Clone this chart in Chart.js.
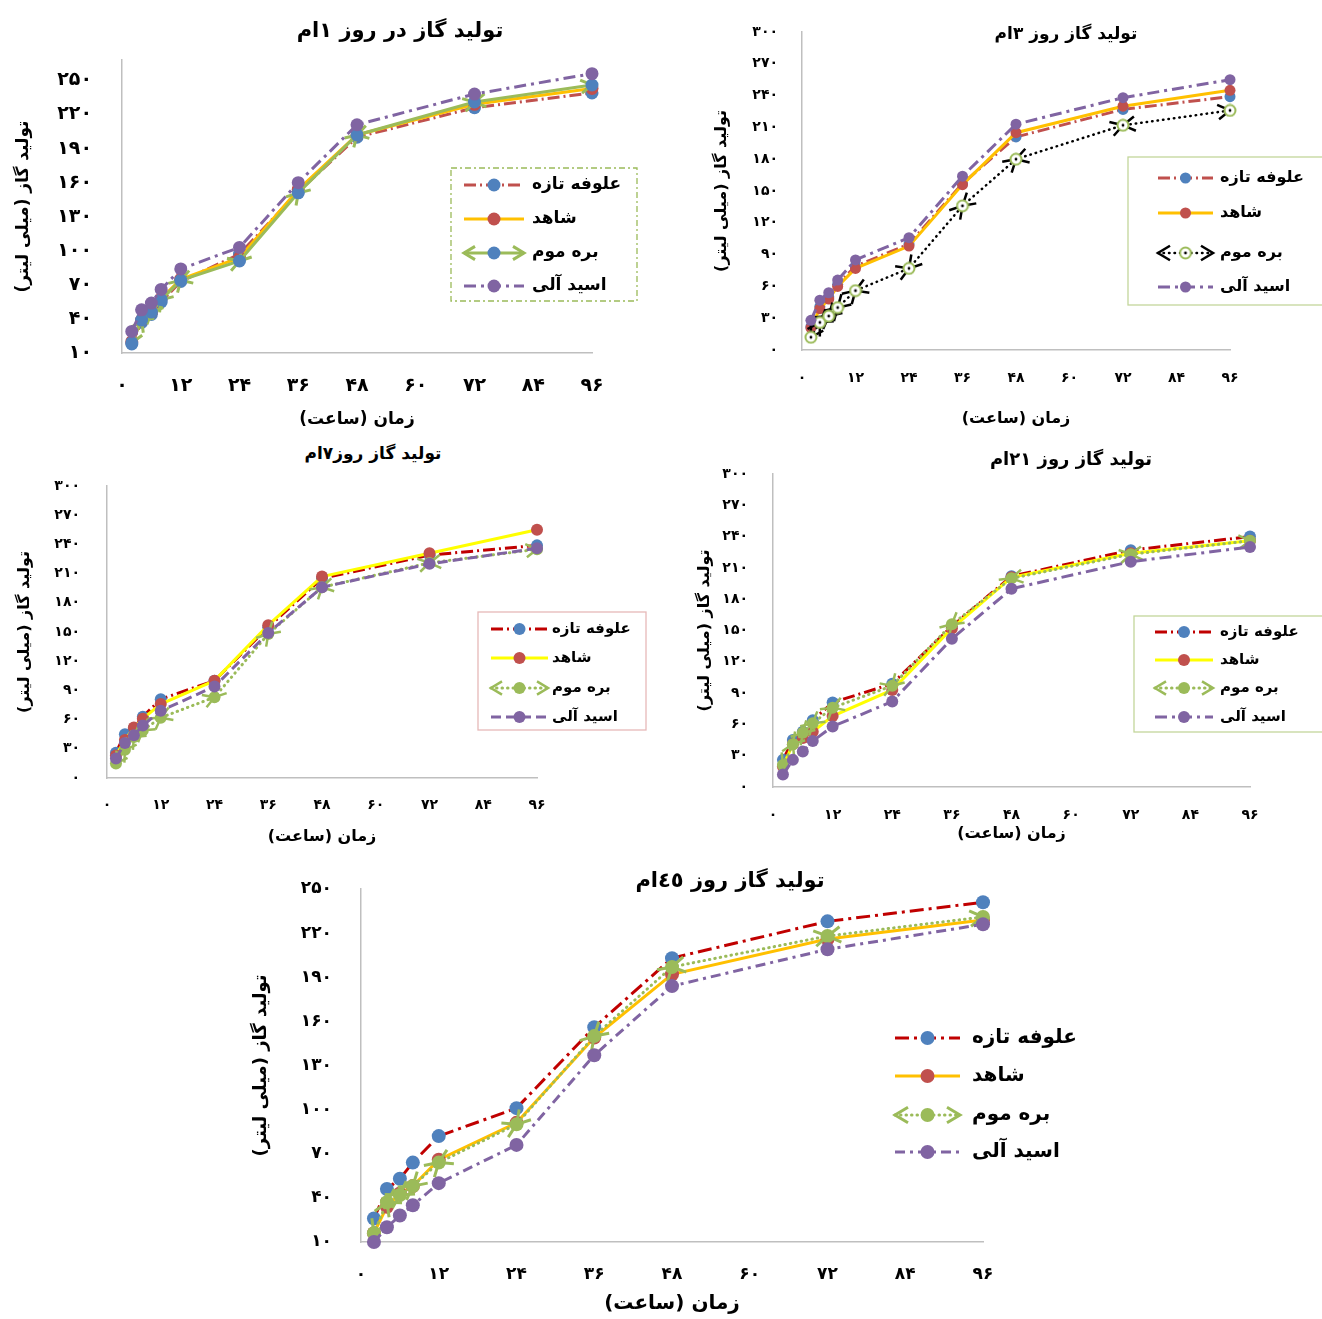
<!DOCTYPE html>
<html>
<head>
<meta charset="utf-8">
<script src="https://cdn.jsdelivr.net/npm/chart.js@4"></script>
<style>
  body { margin: 0; background: #fff; width: 1322px; height: 1319px; position: relative; overflow: hidden; }
  canvas { position: absolute; }
  .ttl { position: absolute; transform: translate(-50%, -50%); font-family: "DejaVu Sans"; font-weight: bold; white-space: nowrap; color: #000; }
</style>
</head>
<body>
<canvas id="c1" dir="rtl" width="650" height="400" style="left:0px;top:40px"></canvas>
<canvas id="c2" dir="rtl" width="622" height="425" style="left:700px;top:15px"></canvas>
<canvas id="c3" dir="rtl" width="655" height="380" style="left:0px;top:470px"></canvas>
<canvas id="c4" dir="rtl" width="642" height="390" style="left:680px;top:460px"></canvas>
<canvas id="c5" dir="rtl" width="870" height="454" style="left:230px;top:865px"></canvas>

<div class="ttl" dir="rtl" style="left:400px;top:30px;font-size:21px">تولید گاز در روز ۱ام</div>
<div class="ttl" dir="rtl" style="left:1066px;top:33px;font-size:17px">تولید گاز روز ۳ام</div>
<div class="ttl" dir="rtl" style="left:373px;top:453px;font-size:17px">تولید گاز روز۷ام</div>
<div class="ttl" dir="rtl" style="left:1071px;top:458px;font-size:18px">تولید گاز روز ۲۱ام</div>
<div class="ttl" dir="rtl" style="left:730px;top:880px;font-size:21px">تولید گاز روز ٤٥ام</div>

<script>
/* --------------------------
   DATA
--------------------------- */
const hours = [2, 4, 6, 8, 12, 24, 36, 48, 72, 96];
const hourTicks = [0, 12, 24, 36, 48, 60, 72, 84, 96];
const gasTicksLow = [10, 40, 70, 100, 130, 160, 190, 220, 250];
const gasTicksHigh = [0, 30, 60, 90, 120, 150, 180, 210, 240, 270, 300];
const seriesNames = ['علوفه تازه', 'شاهد', 'بره موم', 'اسید آلی'];
const yTitle = 'تولید گاز (میلی لیتر)';
const xTitle = 'زمان (ساعت)';

// day 1
const d1Fresh   = [18, 37, 44, 55, 73, 97, 152, 200, 226, 239];
const d1Control = [20, 39, 46, 58, 75, 94, 154, 202, 229, 243];
const d1Wax     = [19, 39, 46, 57, 74, 91, 151, 202, 231, 246];
const d1Acid    = [29, 48, 54, 66, 84, 103, 160, 211, 238, 256];

// day 3
const d3Fresh   = [22, 41, 50, 62, 79, 100, 157, 201, 227, 239];
const d3Control = [21, 39, 48, 60, 77, 98, 156, 205, 230, 245];
const d3Wax     = [12, 26, 32, 40, 56, 77, 136, 180, 212, 226];
const d3Acid    = [28, 47, 54, 66, 85, 106, 164, 213, 238, 255];

// day 7
const d7Fresh   = [26, 45, 51, 63, 81, 100, 155, 205, 229, 239];
const d7Control = [23, 39, 52, 61, 76, 100, 157, 207, 231, 255];
const d7Wax     = [15, 29, 42, 49, 62, 83, 148, 196, 221, 235];
const d7Acid    = [20, 36, 44, 54, 69, 94, 149, 196, 220, 236];

// day 21
const d21Fresh   = [26, 45, 53, 64, 81, 99, 154, 202, 227, 240];
const d21Control = [20, 41, 47, 53, 68, 93, 152, 201, 224, 236];
const d21Wax     = [21, 41, 52, 61, 76, 97, 156, 200, 223, 236];
const d21Acid    = [12, 26, 34, 44, 58, 82, 142, 190, 216, 230];

// day 45
const d45Fresh   = [26, 46, 53, 64, 82, 101, 156, 203, 228, 241];
const d45Control = [16, 34, 43, 48, 66, 91, 149, 192, 216, 229];
const d45Wax     = [16, 37, 42, 48, 64, 90, 150, 197, 218, 231];
const d45Acid    = [10, 20, 28, 35, 50, 76, 137, 184, 209, 226];

/* --------------------------
   HELPERS
--------------------------- */
const FA = '۰۱۲۳۴۵۶۷۸۹';
const fa = v => String(v).replace(/\d/g, d => FA[d]);
const FONT = '"DejaVu Sans"';

function drawArrow(ctx, x, y, ang, size, color, width) {
    ctx.save();
    ctx.translate(x, y);
    ctx.rotate(ang);
    ctx.setLineDash([]);
    ctx.strokeStyle = color;
    ctx.lineWidth = width;
    ctx.lineCap = 'butt';
    ctx.lineJoin = 'miter';
    ctx.beginPath();
    ctx.moveTo(-size, -size * 0.6);
    ctx.lineTo(0, 0);
    ctx.lineTo(-size, size * 0.6);
    ctx.stroke();
    ctx.restore();
}

function drawMarker(ctx, ds, x, y) {
    if (ds.pointStyle instanceof HTMLCanvasElement) {
        ctx.drawImage(ds.pointStyle, x - ds.pointStyle.width / 2, y - ds.pointStyle.height / 2);
        return;
    }
    ctx.setLineDash([]);
    ctx.fillStyle = ds.pointBackgroundColor;
    ctx.beginPath();
    ctx.arc(x, y, ds.pointRadius, 0, Math.PI * 2);
    ctx.fill();
}

// white ring marker with a black centre dot (day 3, بره موم)
function ringMarker() {
    const c = document.createElement('canvas');
    c.width = 14; c.height = 14;
    const g = c.getContext('2d');
    g.fillStyle = '#fff';
    g.strokeStyle = '#9bbb59';
    g.lineWidth = 2;
    g.beginPath(); g.arc(7, 7, 5.5, 0, Math.PI * 2); g.fill(); g.stroke();
    g.fillStyle = '#000';
    g.beginPath(); g.arc(7, 7, 1.4, 0, Math.PI * 2); g.fill();
    return c;
}

// arrow heads at both ends of every segment, under the line and markers
const segmentArrows = {
    id: 'segmentArrows',
    beforeDatasetDraw(chart, args) {
        const ds = chart.data.datasets[args.index];
        if (!ds.arrowColor) return;
        const pts = args.meta.data;
        for (let k = 1; k < pts.length; k++) {
            const a = pts[k - 1], b = pts[k];
            const ang = Math.atan2(b.y - a.y, b.x - a.x);
            drawArrow(chart.ctx, b.x, b.y, ang, ds.arrowSize, ds.arrowColor, ds.arrowWidth);
            drawArrow(chart.ctx, a.x, a.y, ang + Math.PI, ds.arrowSize, ds.arrowColor, ds.arrowWidth);
        }
    }
};

function boxLegend(cfg) {
    return {
        id: 'boxLegend',
        afterDraw(chart) {
            const ctx = chart.ctx;
            ctx.save();
            if (cfg.border) {
                ctx.strokeStyle = cfg.border;
                ctx.lineWidth = 1.3;
                ctx.setLineDash(cfg.borderDash || []);
                ctx.strokeRect(cfg.x, cfg.y, cfg.w, cfg.h);
            }
            chart.data.datasets.forEach((ds, i) => {
                const y = cfg.rows[i];
                const x0 = cfg.sx, x1 = cfg.sx + cfg.sw;
                ctx.setLineDash(ds.borderDash);
                ctx.lineCap = ds.borderCapStyle;
                ctx.strokeStyle = ds.borderColor;
                ctx.lineWidth = ds.borderWidth;
                ctx.beginPath(); ctx.moveTo(x0, y); ctx.lineTo(x1, y); ctx.stroke();
                if (ds.arrowColor) {
                    drawArrow(ctx, x1, y, 0, ds.arrowSize, ds.arrowColor, ds.arrowWidth);
                    drawArrow(ctx, x0, y, Math.PI, ds.arrowSize, ds.arrowColor, ds.arrowWidth);
                }
                drawMarker(ctx, ds, (x0 + x1) / 2, y);
                ctx.setLineDash([]);
                ctx.fillStyle = '#000';
                ctx.font = 'bold ' + cfg.font + 'px ' + FONT;
                ctx.direction = 'rtl';
                ctx.textAlign = 'left';
                ctx.textBaseline = 'middle';
                ctx.fillText(ds.label, cfg.tx, y);
            });
            ctx.restore();
        }
    };
}

/* --------------------------
   CHART BUILDER
--------------------------- */
function gasChart(o) {
    const el = document.getElementById(o.id);
    const W = el.width, H = el.height;
    const datasets = o.values.map((vals, i) => {
        const s = o.styles[i];
        return {
            label: seriesNames[i],
            data: hours.map((h, k) => ({ x: h, y: vals[k] })),
            borderColor: s.line,
            borderWidth: s.width || 3,
            borderDash: s.dash || [],
            borderCapStyle: s.cap || 'butt',
            pointStyle: s.pointStyle || 'circle',
            pointRadius: o.radius,
            pointBackgroundColor: s.point,
            pointBorderColor: s.point,
            pointBorderWidth: 0,
            arrowColor: s.arrow || null,
            arrowSize: s.arrowSize || 11,
            arrowWidth: s.arrowWidth || 2.5,
            order: 4 - i,
            tension: 0,
            fill: false,
            clip: false
        };
    });

    // invisible tick marks give the label gap (ticks.padding would also pad the plot top)
    const hiddenTicks = len => ({ display: true, drawOnChartArea: false, drawTicks: true, tickLength: len, tickColor: 'rgba(0,0,0,0)' });

    return new Chart(el, {
        type: 'line',
        data: { datasets },
        options: {
            responsive: false,
            animation: false,
            events: [],
            layout: { padding: { left: 0, bottom: 0, top: o.plot.top - o.top, right: o.left + W - o.plot.right } },
            plugins: { legend: { display: false }, tooltip: { enabled: false } },
            scales: {
                x: {
                    type: 'linear',
                    min: 0,
                    max: 96,
                    grid: hiddenTicks(o.xPad),
                    border: { color: '#bfbfbf', width: 1.5 },
                    afterBuildTicks: s => { s.ticks = hourTicks.map(v => ({ value: v })); },
                    afterFit: s => { s.height = o.top + H - o.plot.bottom; },
                    ticks: {
                        padding: 0, color: '#000', autoSkip: false, maxRotation: 0,
                        font: { family: FONT, size: o.tickSize, weight: 'bold' },
                        callback: v => fa(v)
                    },
                    title: {
                        display: true, text: xTitle, color: '#000',
                        font: { family: FONT, size: o.titleSize, weight: 'bold' },
                        padding: { top: 0, bottom: o.xTitlePad }
                    }
                },
                y: {
                    min: o.yMin,
                    max: o.yMax,
                    grid: hiddenTicks(o.yPad),
                    border: { color: '#bfbfbf', width: 1.5 },
                    afterBuildTicks: s => { s.ticks = o.yTicks.map(v => ({ value: v })); },
                    afterFit: s => { s.width = o.plot.left - o.left; },
                    ticks: {
                        padding: 0, color: '#000',
                        font: { family: FONT, size: o.tickSize, weight: 'bold' },
                        callback: v => fa(v)
                    },
                    title: {
                        display: true, text: yTitle, color: '#000',
                        font: { family: FONT, size: o.yTitleSize || o.titleSize, weight: 'bold' },
                        padding: { top: o.yTitlePad, bottom: 0 }
                    }
                }
            }
        },
        plugins: [segmentArrows, boxLegend(o.legend)]
    });
}

const dashDot = [12, 4, 2, 4];
const dashDotLong = [12, 5, 3, 5];
const dots = [0.5, 5];

/* ---------------------------
   DAY 1
--------------------------- */
gasChart({
    id: 'c1', left: 0, top: 40,
    plot: { left: 122, top: 60, right: 592, bottom: 353 },
    yMin: 10, yMax: 268, yTicks: gasTicksLow,
    values: [d1Fresh, d1Control, d1Wax, d1Acid],
    radius: 6.5, tickSize: 19, titleSize: 17, xPad: 22, yPad: 30, xTitlePad: 10, yTitlePad: 13,
    styles: [
        { line: '#c0504d', dash: dashDot, point: '#4f81bd' },
        { line: '#ffc000', point: '#c0504d' },
        { line: '#9bbb59', point: '#4f81bd', arrow: '#9bbb59', arrowWidth: 3 },
        { line: '#8064a2', dash: dashDotLong, point: '#8064a2' }
    ],
    legend: { x: 451, y: 128, w: 186, h: 133, rows: [145, 179, 213, 246], sx: 464, sw: 60, tx: 532, font: 17,
              border: '#9bbb59', borderDash: [6, 3, 2, 3] }
});

/* ---------------------------
   DAY 3
--------------------------- */
gasChart({
    id: 'c2', left: 700, top: 15,
    plot: { left: 802, top: 32, right: 1230, bottom: 350 },
    yMin: 0, yMax: 300, yTicks: gasTicksHigh,
    values: [d3Fresh, d3Control, d3Wax, d3Acid],
    radius: 5.5, tickSize: 14, titleSize: 16, xPad: 20, yPad: 24, xTitlePad: 12, yTitlePad: 12,
    styles: [
        { line: '#c0504d', dash: dashDot, point: '#4f81bd' },
        { line: '#ffc000', point: '#c0504d' },
        { line: '#000000', width: 2.5, dash: dots, cap: 'round', point: '#fff', pointStyle: ringMarker(),
          arrow: '#000000', arrowSize: 12, arrowWidth: 2.5 },
        { line: '#8064a2', dash: dashDotLong, point: '#8064a2' }
    ],
    legend: { x: 428, y: 142, w: 200, h: 148, rows: [163, 198, 238, 272], sx: 458, sw: 55, tx: 520, font: 16,
              border: '#c3d69b' }
});

/* ---------------------------
   DAY 7
--------------------------- */
gasChart({
    id: 'c3', left: 0, top: 470,
    plot: { left: 107, top: 486, right: 537, bottom: 778 },
    yMin: 0, yMax: 300, yTicks: gasTicksHigh,
    values: [d7Fresh, d7Control, d7Wax, d7Acid],
    radius: 6, tickSize: 14, titleSize: 16, xPad: 19, yPad: 27, xTitlePad: 4, yTitlePad: 15,
    styles: [
        { line: '#c00000', dash: dashDot, point: '#4f81bd' },
        { line: '#ffff00', point: '#c0504d' },
        { line: '#9bbb59', dash: dots, cap: 'round', point: '#9bbb59', arrow: '#9bbb59', arrowWidth: 2.5 },
        { line: '#8064a2', dash: [10, 5], point: '#8064a2' }
    ],
    legend: { x: 478, y: 142, w: 168, h: 118, rows: [159, 188, 218, 247], sx: 491, sw: 57, tx: 552, font: 15,
              border: '#e6b9b8' }
});

/* ---------------------------
   DAY 21
--------------------------- */
gasChart({
    id: 'c4', left: 680, top: 460,
    plot: { left: 773, top: 474, right: 1250, bottom: 787 },
    yMin: 0, yMax: 300, yTicks: gasTicksHigh,
    values: [d21Fresh, d21Control, d21Wax, d21Acid],
    radius: 6, tickSize: 14, titleSize: 16, xPad: 20, yPad: 25, xTitlePad: 7, yTitlePad: 15,
    styles: [
        { line: '#c00000', dash: dashDot, point: '#4f81bd' },
        { line: '#ffff00', point: '#c0504d' },
        { line: '#9bbb59', dash: dots, cap: 'round', point: '#9bbb59', arrow: '#9bbb59', arrowWidth: 2.5 },
        { line: '#8064a2', dash: dashDotLong, point: '#8064a2' }
    ],
    legend: { x: 454, y: 156, w: 192, h: 116, rows: [172, 200, 228, 257], sx: 475, sw: 58, tx: 540, font: 15,
              border: '#c3d69b' }
});

/* ---------------------------
   DAY 45
--------------------------- */
gasChart({
    id: 'c5', left: 230, top: 865,
    plot: { left: 361, top: 889, right: 983, bottom: 1242 },
    yMin: 10, yMax: 250, yTicks: gasTicksLow,
    values: [d45Fresh, d45Control, d45Wax, d45Acid],
    radius: 7, tickSize: 17, titleSize: 20, yTitleSize: 18, xPad: 22, yPad: 29, xTitlePad: 3, yTitlePad: 21,
    styles: [
        { line: '#c00000', dash: [14, 5, 3, 5], point: '#4f81bd' },
        { line: '#ffc000', point: '#c0504d' },
        { line: '#9bbb59', dash: dots, cap: 'round', point: '#9bbb59', arrow: '#9bbb59', arrowSize: 13, arrowWidth: 3 },
        { line: '#8064a2', dash: [10, 5, 3, 5], point: '#8064a2' }
    ],
    legend: { rows: [173, 211, 250, 287], sx: 665, sw: 65, tx: 742, font: 20 }
});
</script>
</body>
</html>
